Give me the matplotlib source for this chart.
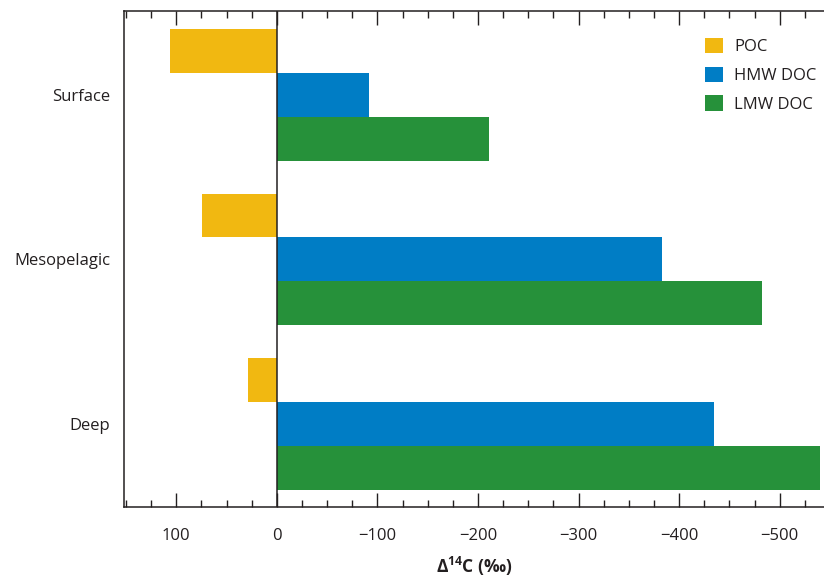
import numpy as np
import matplotlib
matplotlib.use("Agg")
import matplotlib.pyplot as plt
from matplotlib.ticker import MultipleLocator

# data (per mil)
depths = ["Surface", "Mesopelagic", "Deep"]
poc = [106, 74, 29]
hmw_doc = [-92, -383, -435]
lmw_doc = [-211, -482, -540]
series_names = ["POC", "HMW DOC", "LMW DOC"]
colors = ["#F1B811", "#007DC5", "#26913A"]

plt.rcParams["font.family"] = ["Open Sans", "DejaVu Sans"]
plt.rcParams["mathtext.fontset"] = "custom"
plt.rcParams["mathtext.rm"] = "Open Sans"
plt.rcParams["mathtext.bf"] = "Open Sans:bold"
text_col = "#231F20"

fig = plt.figure(figsize=(8.24, 5.79), dpi=100)
ax = fig.add_axes([124 / 824, 1 - 507 / 579, 700 / 824, 496 / 579])

y = np.arange(len(depths))
h = 0.2675
for i, (vals, name, col) in enumerate(zip([poc, hmw_doc, lmw_doc], series_names, colors)):
    ax.barh(y + (i - 1) * h, vals, height=h, color=col, label=name, linewidth=0)

ax.axvline(0, color=text_col, linewidth=1.1)

ax.set_yticks(y)
ax.set_yticklabels(depths)
ax.tick_params(axis="y", length=0, pad=10, labelsize=12, labelcolor=text_col)

ax.xaxis.set_major_locator(MultipleLocator(100))
ax.xaxis.set_minor_locator(MultipleLocator(25))
ticks = np.arange(100, -501, -100)
ax.set_xticks(ticks)
ax.set_xticklabels([f"{int(t)}".replace("-", "\u2212") for t in ticks])
ax.set_xlim(152, -544)
ax.set_ylim(2.505, -0.511)
ax.tick_params(axis="x", which="both", direction="in", top=True, bottom=True,
               color=text_col, labelsize=12, labelcolor=text_col, pad=15)
ax.tick_params(axis="x", which="major", length=10, width=1)
ax.tick_params(axis="x", which="minor", length=5, width=1)

for s in ["left", "top", "bottom"]:
    ax.spines[s].set_color(text_col)
    ax.spines[s].set_linewidth(1.1)
ax.spines["right"].set_visible(False)

ax.set_xlabel("\u0394$^{\\mathbf{14}}$C (\u2030)", fontsize=12.5, fontweight="bold",
              color=text_col, labelpad=8)

leg = ax.legend(loc="upper left", bbox_to_anchor=(0.83, 0.946), frameon=False,
                fontsize=12, handlelength=1.05, handleheight=1.05,
                handletextpad=0.7, labelspacing=0.68, borderpad=0, borderaxespad=0)
for t in leg.get_texts():
    t.set_color(text_col)

fig.savefig("out.png", dpi=100)
